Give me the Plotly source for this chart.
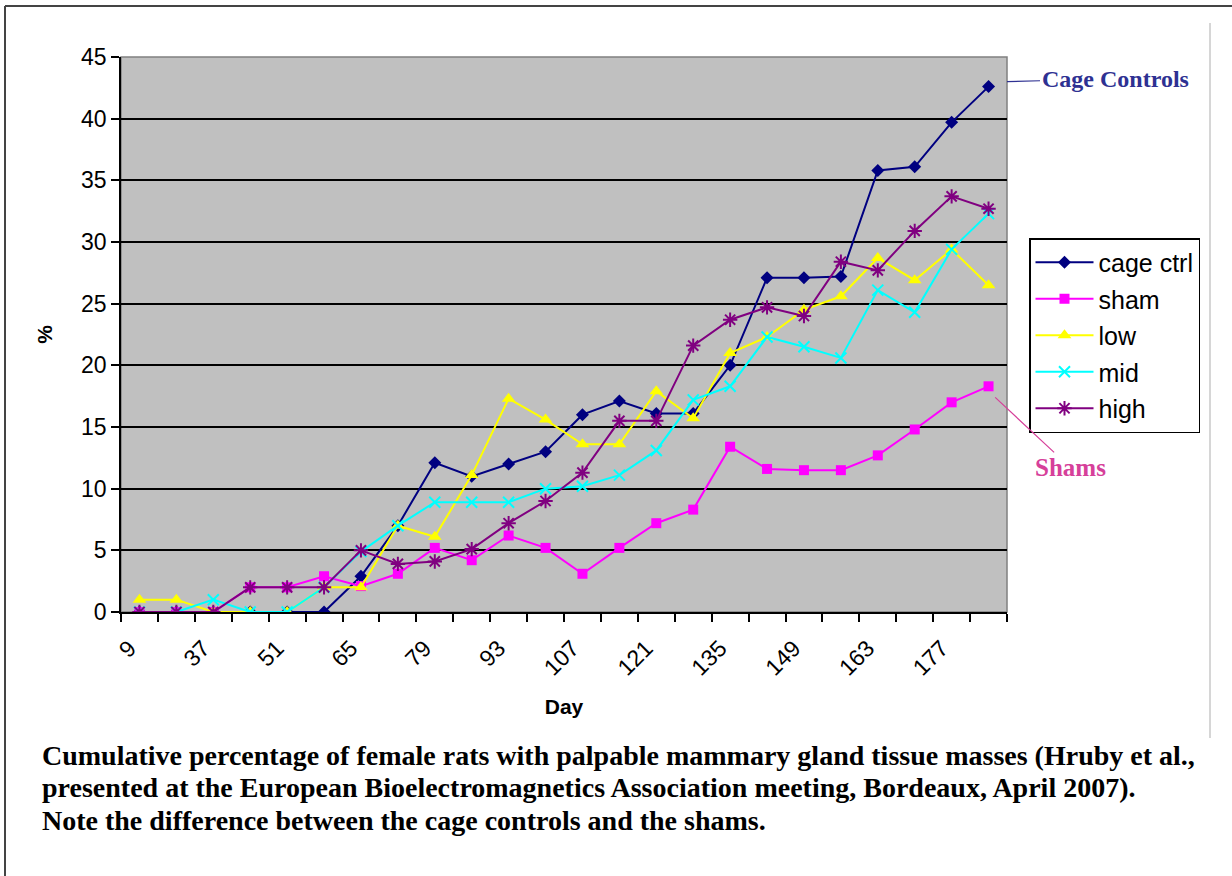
import plotly.graph_objects as go

days = ["9", "23", "37", "44", "51", "58", "65", "72", "79", "86", "93", "100",
        "107", "114", "121", "128", "135", "142", "149", "156", "163", "170", "177", "184"]

cage_ctrl = [0, 0, 0, 0, 0, 0, 2.9, 7.0, 12.1, 11.0, 12.0, 13.0, 16.0, 17.1, 16.1, 16.1,
             20.0, 27.1, 27.1, 27.2, 35.8, 36.1, 39.7, 42.6]
sham = [0, 0, 0, 2.0, 2.0, 2.9, 2.1, 3.1, 5.2, 4.2, 6.2, 5.2, 3.1, 5.2, 7.2, 8.3,
        13.4, 11.6, 11.5, 11.5, 12.7, 14.8, 17.0, 18.3]
low = [1.0, 1.0, 0, 0, 0, 2.0, 2.0, 7.0, 6.1, 11.1, 17.3, 15.6, 13.6, 13.6, 17.9, 15.7,
       21.0, 22.3, 24.5, 25.6, 28.7, 26.9, 29.4, 26.5]
mid = [0, 0, 1.0, 0, 0, 2.0, 4.9, 7.0, 8.9, 8.9, 8.9, 10.0, 10.2, 11.1, 13.1, 17.2,
       18.3, 22.3, 21.5, 20.6, 26.1, 24.3, 29.4, 32.3]
high = [0, 0, 0, 2.0, 2.0, 2.0, 5.0, 3.9, 4.1, 5.1, 7.2, 9.0, 11.3, 15.5, 15.5, 21.6,
        23.7, 24.7, 24.0, 28.4, 27.7, 30.9, 33.7, 32.7]

series_names = ["cage ctrl", "sham", "low", "mid", "high"]
series_values = [cage_ctrl, sham, low, mid, high]
series_colors = ["#000080", "#FF00FF", "#FFFF00", "#00FFFF", "#800080"]
series_symbols = ["diamond", "square", "triangle-up", "x-thin-open", "asterisk-open"]
series_sizes = [10, 10, 12, 11, 12]

caption_lines = [
    "Cumulative percentage of female rats with palpable mammary gland tissue masses (Hruby et al.,",
    "presented at the European Bioelectromagnetics Association meeting, Bordeaux, April 2007).",
    "Note the difference between the cage controls and the shams.",
]

xidx = list(range(len(days)))

fig = go.Figure()
for name, vals, col, sym, sz in zip(series_names, series_values, series_colors, series_symbols, series_sizes):
    fig.add_trace(go.Scatter(
        x=xidx, y=vals, name=name, mode="lines+markers", legendgroup=name,
        line=dict(color=col, width=2),
        marker=dict(symbol=sym, size=sz, color=col, line=dict(color=col, width=2 if "open" in sym else 0)),
    ))

W, H = 1232, 876
L, R, T, B = 121, 1007, 57, 612


def px(xp):
    return (xp - L) / (R - L)


def py(yp):
    return (B - yp) / (B - T)


fig.update_layout(
    width=W, height=H,
    margin=dict(l=L, r=W - R, t=T, b=H - B),
    paper_bgcolor="white",
    plot_bgcolor="#C0C0C0",
    font=dict(family="Liberation Sans, Arial, sans-serif", size=20, color="black"),
    showlegend=True,
    legend=dict(
        x=px(1029), y=py(238), xanchor="left", yanchor="top",
        bgcolor="white", bordercolor="black", borderwidth=1.5,
        font=dict(size=25), itemwidth=58, tracegroupgap=1,
    ),
    xaxis=dict(
        range=[-0.5, len(days) - 0.5],
        tickmode="array", tickvals=xidx[::2], ticktext=days[::2],
        tickangle=-45, ticks="", showgrid=False, zeroline=False,
        showline=True, linecolor="black", linewidth=1.5,
        minor=dict(ticks="outside", tick0=-0.5, dtick=1, ticklen=8, tickcolor="black", tickwidth=1.5, showgrid=False),
        tickfont=dict(size=23), ticklabelstandoff=12, ticklabelshift=-10,
        title=dict(text="<b>Day</b>", font=dict(size=21), standoff=20),
    ),
    yaxis=dict(
        range=[0, 45], dtick=5, tick0=0,
        ticks="outside", ticklen=8, tickcolor="black", tickwidth=1.5,
        showgrid=True, gridcolor="black", gridwidth=1.5, zeroline=False,
        showline=True, linecolor="black", linewidth=1.5,
        tickfont=dict(size=23),
        title=dict(text="<b>%</b>", font=dict(size=21), standoff=23),
    ),
)

# plot area border
fig.add_shape(type="rect", xref="paper", yref="paper", x0=0, y0=0, x1=1, y1=1,
              line=dict(color="#808080", width=1.5), layer="below")

# outer frame
fig.add_shape(type="line", xref="paper", yref="paper",
              x0=px(5), x1=px(1232), y0=py(6), y1=py(6), line=dict(color="#444444", width=2))
fig.add_shape(type="line", xref="paper", yref="paper",
              x0=px(5), x1=px(5), y0=py(6), y1=py(876), line=dict(color="#444444", width=2))
fig.add_shape(type="line", xref="paper", yref="paper",
              x0=px(1210), x1=px(1210), y0=py(23), y1=py(738), line=dict(color="#C8C8C8", width=1.5))

# callouts
fig.add_annotation(x=1.0, xref="paper", y=43.0, yref="y",
                   text="<b>Cage Controls</b>", showarrow=True, arrowhead=0, arrowwidth=1.2,
                   arrowcolor="#2E3192", ax=108, ay=-3, standoff=0,
                   font=dict(family="Liberation Serif, Times New Roman, serif", size=24, color="#2E3192"))
fig.add_annotation(x=23.18, xref="x", y=17.4, yref="y",
                   text="<b>Shams</b>", showarrow=True, arrowhead=0, arrowwidth=1.2,
                   arrowcolor="#D6409A", ax=75, ay=70, standoff=0,
                   font=dict(family="Liberation Serif, Times New Roman, serif", size=25, color="#D6409A"))

# caption (one annotation per line)
for i, line in enumerate(caption_lines):
    fig.add_annotation(x=px(40), xref="paper", y=py(755 + 32.5 * i), yref="paper",
                       xanchor="left", yanchor="middle", align="left", showarrow=False,
                       text="<b>" + line + "</b>",
                       font=dict(family="Liberation Serif, Times New Roman, serif", size=28, color="black"))

fig.write_html("out.html", config={"displayModeBar": False},
               post_script="document.body.style.margin='0';document.body.style.overflow='hidden';")
